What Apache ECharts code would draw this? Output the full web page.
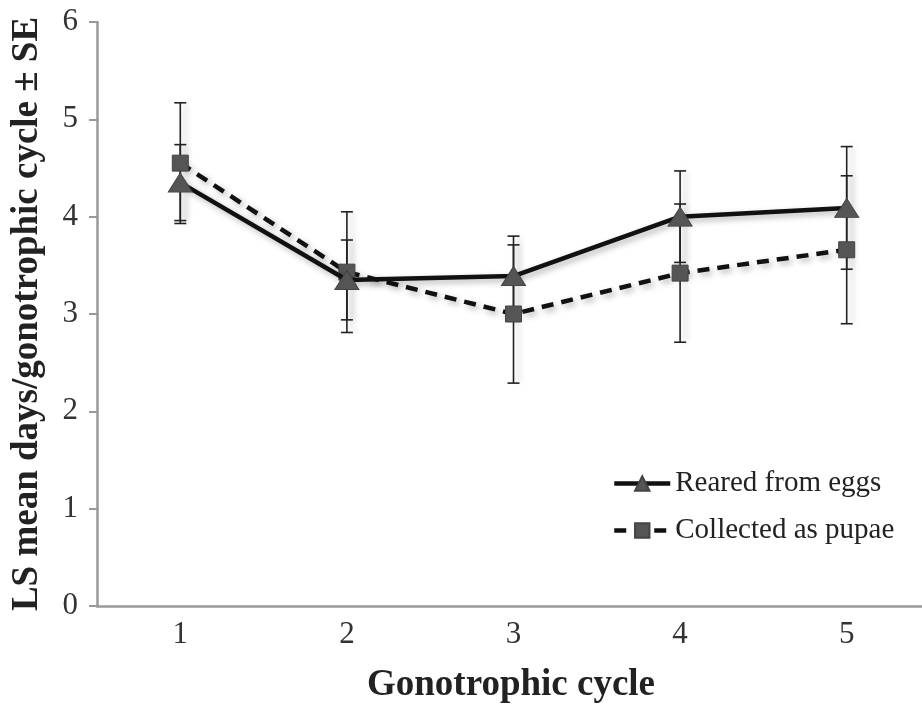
<!DOCTYPE html>
<html><head><meta charset="utf-8">
<script src="https://cdn.jsdelivr.net/npm/echarts@6/dist/echarts.min.js"></script>
<style>html,body{margin:0;padding:0;background:#fff}#c{width:922px;height:705px}</style>
</head><body><div id="c"></div>
<script>
var categories = ['1','2','3','4','5'];
var rearedMean = [4.35, 3.35, 3.39, 4.0, 4.09];
var rearedSE   = [0.39, 0.41, 0.41, 0.47, 0.63];
var pupaeMean  = [4.55, 3.43, 3.0, 3.42, 3.66];
var pupaeSE    = [0.62, 0.62, 0.71, 0.71, 0.76];
var yTicks = [0,1,2,3,4,5,6];

var FONT = '"Liberation Serif", "Times New Roman", serif';

function errData(mean, se){
  return mean.map(function(m,i){ return [i, m - se[i], m + se[i]]; });
}
function errSeries(mean, se){
  return {
    type:'custom', silent:true, z:3,
    data: errData(mean, se),
    renderItem: function(params, api){
      var lo = api.coord([api.value(0), api.value(1)]);
      var hi = api.coord([api.value(0), api.value(2)]);
      var hw = 6;
      var st = {stroke:'#222', lineWidth:1.6, shadowColor:'rgba(0,0,0,0.25)', shadowBlur:6, shadowOffsetX:5};
      return {type:'group', children:[
        {type:'line', shape:{x1:hi[0],y1:hi[1],x2:lo[0],y2:lo[1]}, style:st},
        {type:'line', shape:{x1:hi[0]-hw,y1:hi[1],x2:hi[0]+hw,y2:hi[1]}, style:{stroke:'#222',lineWidth:1.6}},
        {type:'line', shape:{x1:lo[0]-hw,y1:lo[1],x2:lo[0]+hw,y2:lo[1]}, style:{stroke:'#222',lineWidth:1.6}}
      ]};
    }
  };
}

var chart = echarts.init(document.getElementById('c'), null, {renderer:'canvas'});
chart.setOption({
  animation:false,
  backgroundColor:'#fff',
  grid:{left:97, top:22, right:-8, bottom:99, containLabel:false, outerBoundsMode:'none'},
  xAxis:{
    type:'category', data:categories, boundaryGap:true,
    axisLine:{lineStyle:{color:'#999', width:2.5}},
    axisTick:{show:false},
    axisLabel:{fontFamily:FONT, fontSize:31, color:'#333', margin:13},
    name:'Gonotrophic cycle', nameLocation:'middle', nameGap:61,
    nameTextStyle:{fontFamily:FONT, fontSize:37, fontWeight:'bold', color:'#222', padding:[0,0,0,-5]},
  },
  yAxis:{
    type:'value', min:0, max:6, interval:1,
    axisLine:{show:true, lineStyle:{color:'#999', width:2.5}},
    axisTick:{show:true, length:8, lineStyle:{color:'#999', width:2}},
    splitLine:{show:false},
    axisLabel:{fontFamily:FONT, fontSize:31, color:'#333', margin:19,
      formatter:function(v){ return yTicks.indexOf(v)>=0 ? String(v) : ''; }},
    name:'LS mean days/gonotrophic cycle \u00b1 SE', nameLocation:'middle', nameGap:51,
    nameTextStyle:{fontFamily:FONT, fontSize:37, fontWeight:'bold', color:'#222'}
  },
  legend:{
    orient:'vertical', left:607, top:464, itemGap:18,
    itemWidth:56, itemHeight:18,
    textStyle:{fontFamily:FONT, fontSize:29, color:'#222'},
    data:[
      {name:'Reared from eggs', lineStyle:{width:4.5}},
      {name:'Collected as pupae', lineStyle:{width:4.5}}
    ]
  },
  series:[
    errSeries(pupaeMean, pupaeSE),
    errSeries(rearedMean, rearedSE),
    {
      name:'Collected as pupae', type:'line', data:pupaeMean, z:4,
      symbol:'rect', symbolSize:16,
      lineStyle:{color:'#111', width:4.5, type:[12,8], shadowColor:'rgba(0,0,0,0.3)', shadowBlur:6, shadowOffsetX:3, shadowOffsetY:3},
      itemStyle:{color:'#555', borderColor:'#444', borderWidth:1}
    },
    {
      name:'Reared from eggs', type:'line', data:rearedMean, z:5,
      symbol:'triangle', symbolSize:[24,19],
      lineStyle:{color:'#111', width:4.5, shadowColor:'rgba(0,0,0,0.3)', shadowBlur:6, shadowOffsetX:3, shadowOffsetY:3},
      itemStyle:{color:'#555', borderColor:'#444', borderWidth:1}
    }
  ]
});
</script></body></html>
